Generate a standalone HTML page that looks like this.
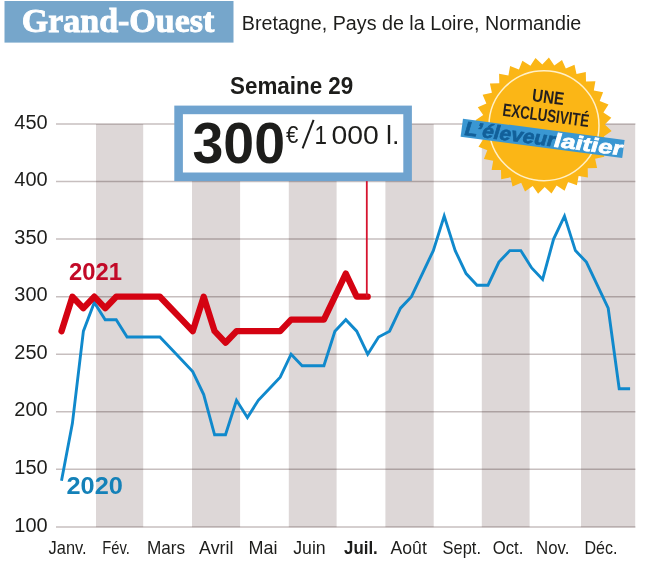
<!DOCTYPE html>
<html><head><meta charset="utf-8"><title>Grand-Ouest</title>
<style>
html,body{margin:0;padding:0;background:#fff;}
body{width:646px;height:562px;overflow:hidden;font-family:"Liberation Sans",sans-serif;}
svg{display:block;}
text{font-family:"Liberation Sans",sans-serif;fill:#1d1d1b;}
.ser{font-family:"Liberation Serif",serif;}
</style></head><body>
<svg width="646" height="562" viewBox="0 0 646 562">
<rect width="646" height="562" fill="#fff"/>

<rect x="4.5" y="1" width="229" height="41.6" fill="#76a6cb"/>
<text x="21.8" y="32.2" font-size="33" textLength="192.5" lengthAdjust="spacingAndGlyphs" class="ser" font-weight="bold" style="fill:#fff;stroke:#fff;stroke-width:0.9">Grand-Ouest</text>
<text x="241.8" y="30.2" font-size="20" textLength="339.5" lengthAdjust="spacingAndGlyphs" >Bretagne, Pays de la Loire, Normandie</text>
<line x1="56" x2="635.4" y1="124.0" y2="124.0" stroke="#c7bfbf" stroke-width="1.5"/>
<text x="14.3" y="128.6" font-size="19.5" textLength="33.3" lengthAdjust="spacingAndGlyphs" >450</text>
<line x1="56" x2="635.4" y1="181.6" y2="181.6" stroke="#c7bfbf" stroke-width="1.5"/>
<text x="14.3" y="186.2" font-size="19.5" textLength="33.3" lengthAdjust="spacingAndGlyphs" >400</text>
<line x1="56" x2="635.4" y1="239.1" y2="239.1" stroke="#c7bfbf" stroke-width="1.5"/>
<text x="14.3" y="243.7" font-size="19.5" textLength="33.3" lengthAdjust="spacingAndGlyphs" >350</text>
<line x1="56" x2="635.4" y1="296.7" y2="296.7" stroke="#c7bfbf" stroke-width="1.5"/>
<text x="14.3" y="301.3" font-size="19.5" textLength="33.3" lengthAdjust="spacingAndGlyphs" >300</text>
<line x1="56" x2="635.4" y1="354.2" y2="354.2" stroke="#c7bfbf" stroke-width="1.5"/>
<text x="14.3" y="358.8" font-size="19.5" textLength="33.3" lengthAdjust="spacingAndGlyphs" >250</text>
<line x1="56" x2="635.4" y1="411.8" y2="411.8" stroke="#c7bfbf" stroke-width="1.5"/>
<text x="14.3" y="416.4" font-size="19.5" textLength="33.3" lengthAdjust="spacingAndGlyphs" >200</text>
<line x1="56" x2="635.4" y1="469.3" y2="469.3" stroke="#c7bfbf" stroke-width="1.5"/>
<text x="14.3" y="473.9" font-size="19.5" textLength="33.3" lengthAdjust="spacingAndGlyphs" >150</text>
<line x1="56" x2="635.4" y1="526.9" y2="526.9" stroke="#c7bfbf" stroke-width="1.5"/>
<text x="14.3" y="531.5" font-size="19.5" textLength="33.3" lengthAdjust="spacingAndGlyphs" >100</text>
<g style="mix-blend-mode:multiply">
<rect x="96" y="124" width="47.2" height="403.2" fill="#ddd7d7"/>
<rect x="192" y="124" width="48.1" height="403.2" fill="#ddd7d7"/>
<rect x="288.8" y="124" width="47.8" height="403.2" fill="#ddd7d7"/>
<rect x="385.4" y="124" width="48.3" height="403.2" fill="#ddd7d7"/>
<rect x="481.8" y="124" width="47.8" height="403.2" fill="#ddd7d7"/>
<rect x="581" y="124" width="54.2" height="403.2" fill="#ddd7d7"/>
</g>
<text x="48.6" y="554.4" font-size="19" textLength="38.0" lengthAdjust="spacingAndGlyphs" >Janv.</text>
<text x="102.3" y="554.4" font-size="19" textLength="27.6" lengthAdjust="spacingAndGlyphs" >Fév.</text>
<text x="146.89999999999998" y="554.4" font-size="19" textLength="38.2" lengthAdjust="spacingAndGlyphs" >Mars</text>
<text x="199.1" y="554.4" font-size="19" textLength="34.3" lengthAdjust="spacingAndGlyphs" >Avril</text>
<text x="248.6" y="554.4" font-size="19" textLength="29.0" lengthAdjust="spacingAndGlyphs" >Mai</text>
<text x="293.2" y="554.4" font-size="19" textLength="32.5" lengthAdjust="spacingAndGlyphs" >Juin</text>
<text x="344.09999999999997" y="554.4" font-size="19" textLength="33.7" lengthAdjust="spacingAndGlyphs" font-weight="bold">Juil.</text>
<text x="390.59999999999997" y="554.4" font-size="19" textLength="36.2" lengthAdjust="spacingAndGlyphs" >Août</text>
<text x="442.59999999999997" y="554.4" font-size="19" textLength="38.4" lengthAdjust="spacingAndGlyphs" >Sept.</text>
<text x="492.8" y="554.4" font-size="19" textLength="30.6" lengthAdjust="spacingAndGlyphs" >Oct.</text>
<text x="536.1" y="554.4" font-size="19" textLength="33.3" lengthAdjust="spacingAndGlyphs" >Nov.</text>
<text x="584.4000000000001" y="554.4" font-size="19" textLength="33.0" lengthAdjust="spacingAndGlyphs" >Déc.</text>
<polyline points="61.5,480.8 72.4,423.3 83.4,331.2 94.3,302.4 105.2,319.7 116.2,319.7 127.1,337.0 138.0,337.0 149.0,337.0 159.9,337.0 170.9,348.5 181.8,360.0 192.7,371.5 203.7,394.5 214.6,434.8 225.5,434.8 236.5,400.3 247.4,417.5 258.3,400.3 269.3,388.8 280.2,377.2 291.1,354.2 302.1,365.7 313.0,365.7 323.9,365.7 334.9,331.2 345.8,319.7 356.7,331.2 367.7,354.2 378.6,337.0 389.6,331.2 400.5,308.2 411.4,296.7 422.4,273.6 433.3,250.6 444.2,216.1 455.2,250.6 466.1,273.6 477.0,285.2 488.0,285.2 498.9,262.1 509.8,250.6 520.8,250.6 531.7,267.9 542.6,279.4 553.6,239.1 564.5,216.1 575.4,250.6 586.4,262.1 597.3,285.2 608.2,308.2 619.2,388.8 630.1,388.8" fill="none" stroke="#1089cc" stroke-width="2.9" stroke-linejoin="miter"/>
<polyline points="61.5,331.2 72.4,296.7 83.4,308.2 94.3,296.7 105.2,308.2 116.2,296.7 127.1,296.7 138.0,296.7 149.0,296.7 159.9,296.7 170.9,308.2 181.8,319.7 192.7,331.2 203.7,296.7 214.6,331.2 225.5,342.7 236.5,331.2 247.4,331.2 258.3,331.2 269.3,331.2 280.2,331.2 291.1,319.7 302.1,319.7 313.0,319.7 323.9,319.7 334.9,296.7 345.8,273.6 356.7,296.7 367.7,296.7" fill="none" stroke="#d40312" stroke-width="6.3" stroke-linejoin="round" stroke-linecap="round"/>
<line x1="366.8" x2="366.8" y1="180" y2="296.7" stroke="#d6142f" stroke-width="1.8"/>
<text x="69" y="280.2" font-size="23.8" textLength="53.0" lengthAdjust="spacingAndGlyphs" font-weight="bold" style="fill:#c20a28">2021</text>
<text x="66.5" y="494.4" font-size="23.8" textLength="56.3" lengthAdjust="spacingAndGlyphs" font-weight="bold" style="fill:#1481b8">2020</text>
<text x="230" y="93.7" font-size="23" textLength="123.3" lengthAdjust="spacingAndGlyphs" font-weight="bold">Semaine 29</text>
<rect x="178.6" y="109.9" width="229" height="66.9" fill="#fff" stroke="#6fa3cf" stroke-width="8.6"/>
<text x="192.5" y="163.3" font-size="56.5" textLength="92.5" lengthAdjust="spacingAndGlyphs" font-weight="bold">300</text>
<text x="286.1" y="143.4" font-size="23" textLength="12.4" lengthAdjust="spacingAndGlyphs" >€</text>
<line x1="302.6" y1="148.3" x2="313.6" y2="119.8" stroke="#1d1d1b" stroke-width="2"/>
<text x="314.5" y="143.8" font-size="25" textLength="12.5" lengthAdjust="spacingAndGlyphs" >1</text>
<text x="331.4" y="143.8" font-size="25" textLength="47.3" lengthAdjust="spacingAndGlyphs" >000</text>
<text x="386" y="143.8" font-size="25" textLength="13.5" lengthAdjust="spacingAndGlyphs" >l.</text>
<polygon points="548.9,57.6 554.3,65.4 562.0,60.0 565.8,68.6 574.5,64.8 576.5,74.1 585.8,72.1 586.0,81.5 595.4,81.3 593.8,90.6 603.1,92.3 599.7,101.1 608.5,104.6 603.4,112.6 611.3,117.7 604.8,124.5 611.6,131.1 603.8,136.5 609.2,144.2 600.6,148.0 604.4,156.7 595.1,158.7 597.1,168.0 587.7,168.2 587.9,177.6 578.6,176.0 576.9,185.3 568.1,181.9 564.6,190.7 556.6,185.6 551.5,193.5 544.7,187.0 538.1,193.8 532.7,186.0 525.0,191.4 521.2,182.8 512.5,186.6 510.5,177.3 501.2,179.3 501.0,169.9 491.6,170.1 493.2,160.8 483.9,159.1 487.3,150.3 478.5,146.8 483.6,138.8 475.7,133.7 482.2,126.9 475.4,120.3 483.2,114.9 477.8,107.2 486.4,103.4 482.6,94.7 491.9,92.7 489.9,83.4 499.3,83.2 499.1,73.8 508.4,75.4 510.1,66.1 518.9,69.5 522.4,60.7 530.4,65.8 535.5,57.9 542.3,64.4" fill="#fbb616"/>
<circle cx="544.0" cy="125.7" r="55" fill="none" stroke="#fff0c8" stroke-width="1.5"/>
<g transform="translate(542.6 138.4) rotate(7.5)">
<text x="0.2" y="-35.7" font-size="18" font-weight="bold" text-anchor="middle" textLength="32" lengthAdjust="spacingAndGlyphs" style="fill:#231f20">UNE</text>
<text x="0.2" y="-17.2" font-size="18" font-weight="bold" text-anchor="middle" textLength="87" lengthAdjust="spacingAndGlyphs" style="fill:#231f20">EXCLUSIVITÉ</text>
<rect x="-81.5" y="-9.15" width="163" height="18.3" fill="#3a97d2"/>
<text transform="skewX(-9)" x="-78" y="6.6" font-size="19.5" font-weight="bold" style="fill:#12609a;stroke:#12609a;stroke-width:0.7" textLength="91" lengthAdjust="spacingAndGlyphs">L’éleveur</text>
<text transform="skewX(-9)" x="12" y="6.6" font-size="19.5" font-weight="bold" style="fill:#fff;stroke:#fff;stroke-width:0.7" textLength="69" lengthAdjust="spacingAndGlyphs">laitier</text>
</g>
</svg></body></html>
